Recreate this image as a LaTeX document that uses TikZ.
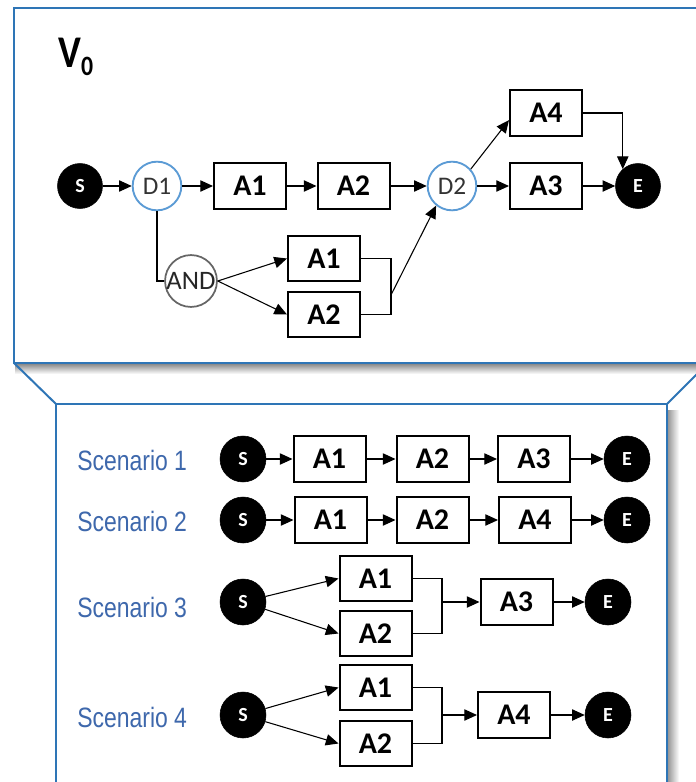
\documentclass[tikz,border=0pt]{standalone}
\usepackage{fontspec}
\setmainfont{Carlito}
\newfontfamily\scenfont[FakeStretch=0.82]{Liberation Sans}
\newfontfamily\vfont[FakeStretch=0.85]{Carlito}
\usetikzlibrary{arrows.meta,calc}
\definecolor{panelblue}{RGB}{46,117,182}
\definecolor{dblue}{RGB}{91,155,213}
\definecolor{scenblue}{RGB}{62,104,172}
\begin{document}
\begin{tikzpicture}[x=0.75pt,y=-0.75pt,
  act/.style={draw,line width=1.5pt,minimum width=54pt,minimum height=34pt,inner sep=0pt,font=\fontsize{22.5}{22.5}\selectfont\bfseries},
  term/.style={circle,fill=black,draw=black,minimum size=33.75pt,inner sep=0pt,text=white,font=\fontsize{15}{15}\selectfont\bfseries},
  termb/.style={term,minimum size=34.5pt},
  dec/.style={circle,draw=dblue,line width=1.4pt,minimum size=36.5pt,inner sep=0pt,text=black!80,font=\fontsize{19}{19}\selectfont},
  andnode/.style={circle,draw=black!60,line width=1.3pt,minimum size=38pt,inner sep=0pt,text=black!85,font=\fontsize{20}{20}\selectfont},
  conn/.style={line width=0.8pt},
  arr/.style={conn,-{Triangle[length=9.5pt,width=8.5pt]}},
  panel/.style={draw=panelblue,line width=1.5pt},
  scen/.style={anchor=west,text=scenblue,inner sep=0pt,font=\scenfont\fontsize{21}{21}\selectfont}]
\useasboundingbox (0,0) rectangle (696,782);
\fill[white] (0,0) rectangle (696,782);
\clip (0,0) rectangle (696,782);

% shadows
\shade[top color=black!45,bottom color=white] (15,364) rectangle (708,374);
\shade[left color=black!40,right color=white] (668,410) rectangle (679,782);

% panels
\draw[panel] (14,8) rectangle (708,363);
\draw[panel] (14,363) -- (56,404);
\draw[panel] (667,404) -- (708,363);
\draw[panel] (56,790) |- (667,404) -- (667,790);

% title
\node[anchor=base west,inner sep=0pt] (v0) at (58,67) {\vfont\fontsize{34}{34}\selectfont\bfseries V\raisebox{-6pt}{\fontsize{21}{21}\selectfont 0}};

% top diagram
\node[term] (s0) at (80,186) {S};
\node[dec] (d1) at (157,186) {D1};
\node[act] (a1) at (250,186) {A1};
\node[act] (a2) at (353.5,186) {A2};
\node[dec] (d2) at (452,186) {D2};
\node[act] (a3) at (546,186) {A3};
\node[act] (a4) at (546,113) {A4};
\node[term] (e0) at (638,186) {E};
\node[andnode] (and) at (191,281) {AND};
\node[act] (a1b) at (324,258.5) {A1};
\node[act] (a2b) at (324,314.5) {A2};
\coordinate (m0) at (391,295);

\draw[arr] (s0) -- (d1);
\draw[arr] (d1) -- (a1);
\draw[arr] (a1) -- (a2);
\draw[arr] (a2) -- (d2);
\draw[arr] (d2) -- (a3);
\draw[arr] (a3) -- (e0);
\draw[arr] (d2.42) -- ($(a4.south west)!0.35!(a4.north west)$);
\draw[arr] (a4.east) -| (e0.132);
\draw[conn] (d1.south) |- (and.west);
\draw[arr] (and.east) -- (a1b.west);
\draw[arr] (and.east) -- (a2b.west);
\draw[conn] (a1b.east) -- ++(30,0) |- (a2b.east);
\draw[arr] (m0) -- (d2.231);

% scenarios
\node[scen] (l1) at (77,460) {Scenario 1};
\node[scen] (l2) at (77,521) {Scenario 2};
\node[scen] (l3) at (77,607) {Scenario 3};
\node[scen] (l4) at (77,717) {Scenario 4};

% scenario 1
\node[termb] (s1) at (243,459) {S};
\node[act] (r1a1) at (329.5,459) {A1};
\node[act] (r1a2) at (432.5,459) {A2};
\node[act] (r1a3) at (534,459) {A3};
\node[termb] (e1) at (627,459) {E};
\draw[arr] (s1) -- (r1a1);
\draw[arr] (r1a1) -- (r1a2);
\draw[arr] (r1a2) -- (r1a3);
\draw[arr] (r1a3) -- (e1);

% scenario 2
\node[termb] (s2) at (243,520) {S};
\node[act] (r2a1) at (330.5,520) {A1};
\node[act] (r2a2) at (432.5,520) {A2};
\node[act] (r2a4) at (535,520) {A4};
\node[termb] (e2) at (627,520) {E};
\draw[arr] (s2) -- (r2a1);
\draw[arr] (r2a1) -- (r2a2);
\draw[arr] (r2a2) -- (r2a4);
\draw[arr] (r2a4) -- (e2);

% scenario 3
\node[termb] (s3) at (243,602) {S};
\node[act] (r3a1) at (375.5,578.5) {A1};
\node[act] (r3a2) at (375.5,633.5) {A2};
\node[act] (r3a3) at (516.5,602) {A3};
\node[termb] (e3) at (608,602) {E};
\coordinate (m3) at (442,602);
\draw[arr] (s3) -- (r3a1.west);
\draw[arr] (s3) -- (r3a2.west);
\draw[conn] (r3a1.east) -| (m3) |- (r3a2.east);
\draw[arr] (m3) -- (r3a3);
\draw[arr] (r3a3) -- (e3);

% scenario 4
\node[termb] (s4) at (243,715) {S};
\node[act] (r4a1) at (375.5,687.5) {A1};
\node[act] (r4a2) at (375.5,743.5) {A2};
\node[act] (r4a4) at (514,715) {A4};
\node[termb] (e4) at (608,715) {E};
\coordinate (m4) at (442,715);
\draw[arr] (s4) -- (r4a1.west);
\draw[arr] (s4) -- (r4a2.west);
\draw[conn] (r4a1.east) -| (m4) |- (r4a2.east);
\draw[arr] (m4) -- (r4a4);
\draw[arr] (r4a4) -- (e4);
\end{tikzpicture}
\end{document}
